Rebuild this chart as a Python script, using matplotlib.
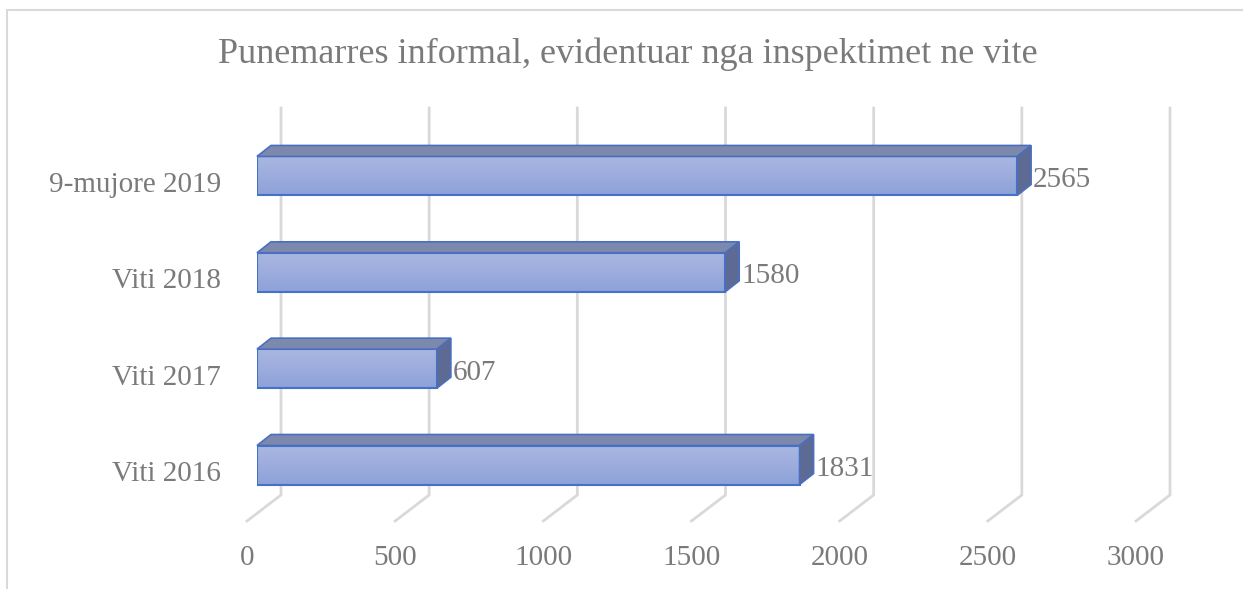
import numpy as np
import matplotlib
matplotlib.use('Agg')
import matplotlib.pyplot as plt
from matplotlib.patches import Polygon, Rectangle
from matplotlib.lines import Line2D
from matplotlib.transforms import IdentityTransform

# data
categories = ['Viti 2016', 'Viti 2017', 'Viti 2018', '9-mujore 2019']
values = [1831, 607, 1580, 2565]
x_ticks = [0, 500, 1000, 1500, 2000, 2500, 3000]
title = 'Punemarres informal, evidentuar nga inspektimet ne vite'

W, H = 1243, 589
grey_txt = '#7a7a7a'
grid_col = '#d9d9d9'
serif = 'Liberation Serif'
fs = 21

fig = plt.figure(figsize=(W / 100, H / 100), dpi=100)
# axes placed so the front face of the bars sits where it is in the reference
ax = fig.add_axes([257 / W, 75.8 / H, 889 / W, 385.4 / H])
ax.set_xlim(0, 3000)
ax.set_ylim(-0.5, 3.5)
ax.axis('off')

# chart border (only top and left visible)
fig.add_artist(Rectangle((7 / W, -0.1), 1.2, 1.1 - 10 / H, transform=fig.transFigure,
                         fill=False, edgecolor=grid_col, lw=1.5))

fig.text(628 / W, 1 - 63 / H, title, ha='center', va='baseline', fontsize=26,
         family=serif, color=grey_txt)


def px(x, y):
    return ax.transData.transform((x, y))


def dline(pts, **kw):
    pts = np.array(pts)
    ax.add_line(Line2D(pts[:, 0], pts[:, 1], transform=IdentityTransform(),
                       clip_on=False, **kw))


# perspective gridlines: back wall + floor
wall_dx = 24
top_y = H - 108
bot_y = H - 495
floor_dx, floor_dy = -34, -26
for t in x_ticks:
    x0 = px(t, 0)[0] + wall_dx
    dline([(x0, top_y), (x0, bot_y), (x0 + floor_dx, bot_y + floor_dy)],
          color=grid_col, lw=2, zorder=1, solid_joinstyle='miter')
    ax.text(x0 + floor_dx, H - 565, str(t), transform=IdentityTransform(),
            ha='center', va='baseline', fontsize=fs, family=serif, color=grey_txt)

# 3D bars
bh = 0.405
dx, dy = 14, 11
grad = np.linspace(0, 1, 64).reshape(-1, 1)
cmap = matplotlib.colors.LinearSegmentedColormap.from_list('bar', ['#8ea2d8', '#aab7e2'])
for i, (cat, v) in enumerate(zip(categories, values)):
    y0, y1 = i - bh / 2, i + bh / 2
    ax.imshow(grad, extent=(0, v, y0, y1), origin='lower', aspect='auto',
              cmap=cmap, zorder=3)
    ax.add_patch(Rectangle((0, y0), v, bh, fill=False, edgecolor='#4472c4',
                           lw=1.5, zorder=4))
    ftl, ftr, fbr = px(0, y1), px(v, y1), px(v, y0)
    top = [ftl, ftr, ftr + (dx, dy), ftl + (dx, dy)]
    side = [ftr, fbr, fbr + (dx, dy), ftr + (dx, dy)]
    ax.add_patch(Polygon(top, closed=True, transform=IdentityTransform(),
                         facecolor='#7d88ad', edgecolor='#4a6fc0', lw=1.2,
                         zorder=4, clip_on=False, joinstyle='miter'))
    ax.add_patch(Polygon(side, closed=True, transform=IdentityTransform(),
                         facecolor='#5d6a94', edgecolor='#4a6fc0', lw=1.2,
                         zorder=4, clip_on=False, joinstyle='miter'))
    ax.annotate(str(v), (v, i), xytext=(16 * 0.72, -11 * 0.72), textcoords='offset points',
                ha='left', va='baseline', fontsize=fs, family=serif, color=grey_txt,
                zorder=5)
    ax.annotate(cat, (0, i), xytext=(-36 * 0.72, -16 * 0.72), textcoords='offset points',
                ha='right', va='baseline', fontsize=fs, family=serif, color=grey_txt)

ax.set_xlim(0, 3000)
ax.set_ylim(-0.5, 3.5)

fig.savefig('out.png', dpi=100)
